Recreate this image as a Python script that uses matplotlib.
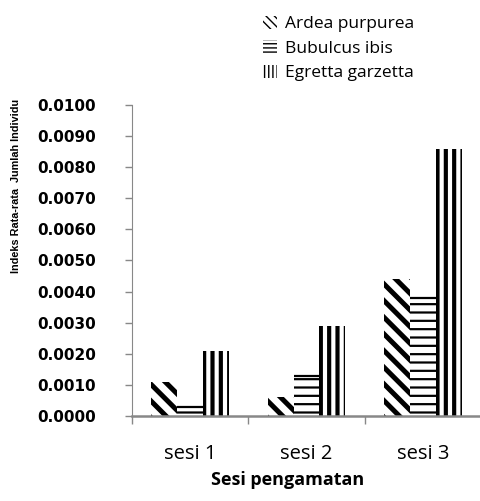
import matplotlib
matplotlib.use('Agg')
import numpy as np
import matplotlib.pyplot as plt
from matplotlib.patches import Patch
from matplotlib.ticker import FormatStrFormatter, FixedLocator

# mean abundance index per observation session
sessions = ['sesi 1', 'sesi 2', 'sesi 3']
species = ['Ardea purpurea', 'Bubulcus ibis', 'Egretta garzetta']
ardea = [0.0011, 0.0006, 0.0044]
bubulcus = [0.0003, 0.0013, 0.0038]
egretta = [0.0021, 0.0029, 0.0086]

series = [ardea, bubulcus, egretta]
hatches = ['\\\\', '--', '||']
hatch_widths = [3.6, 1.6, 3.0]

fig = plt.figure(figsize=(4.81, 5.01), dpi=100)
ax = fig.add_axes([0.2744, 0.1697, 0.7256, 0.6207])

x = np.arange(1, len(sessions) + 1)
w = 0.223
handles = []
for i, (vals, h, hw) in enumerate(zip(series, hatches, hatch_widths)):
    pos = x + (i - 1) * w
    with plt.rc_context({'hatch.linewidth': hw}):
        ax.bar(pos, vals, w, color='white', edgecolor='black',
               linewidth=0, hatch=h)
        # small legend key with a denser pattern so it shows at icon size
        handles.append(Patch(facecolor='white', edgecolor='black', linewidth=0,
                             hatch=h * 2, label=species[i]))
    if h == '--':
        # close the striped bars with a line on top
        ax.hlines(vals, pos - w / 2, pos + w / 2, color='black', lw=1.6)

ax.set_xlim(0.5, 3.5)
ax.set_ylim(0, 0.0100)
ax.set_yticks(np.arange(0, 0.01001, 0.001))
ax.yaxis.set_major_formatter(FormatStrFormatter('%.4f'))

ax.set_xticks(x)
ax.set_xticklabels(sessions, family='Open Sans', fontsize=14.5)
ax.xaxis.set_minor_locator(FixedLocator([0.5, 1.5, 2.5, 3.5]))
ax.tick_params(axis='x', which='major', length=0, pad=20)
ax.tick_params(axis='x', which='minor', length=6, color='#888888', width=1)
ax.tick_params(axis='y', length=5, color='#888888', width=1, pad=21)
for lab in ax.get_yticklabels():
    lab.set_fontweight('bold')
    lab.set_fontsize(11)

for s in ['top', 'right']:
    ax.spines[s].set_visible(False)
ax.spines['left'].set_color('#888888')
ax.spines['bottom'].set_color('#888888')
ax.spines['bottom'].set_linewidth(1.8)

ax.set_ylabel('Indeks Rata-rata  Jumlah Individu',
              family=['Liberation Sans Narrow', 'Liberation Sans'],
              fontweight='bold', fontsize=7.8)
ax.yaxis.set_label_coords(-0.318, 0.74)

fig.text(288 / 481, 1 - 480 / 501, 'Sesi pengamatan', family='Open Sans',
         fontweight='bold', fontsize=13, ha='center', va='center')

fig.legend(handles=handles, loc='upper left', bbox_to_anchor=(247 / 481, 1 - 0 / 501),
           frameon=False, prop={'family': 'Open Sans', 'size': 12.5},
           handlelength=0.8, handleheight=0.8, handletextpad=0.5, labelspacing=0.45)

fig.savefig('out.png', dpi=100)
